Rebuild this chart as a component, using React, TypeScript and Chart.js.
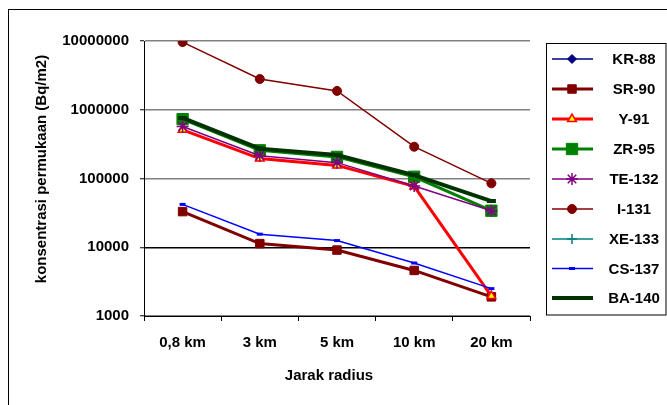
import React, { useEffect, useRef } from 'react';
import { Chart, registerables } from 'chart.js';
import { drawPoint } from 'chart.js/helpers';

Chart.register(...registerables);

// ---- data ----
const categories = ['0,8 km', '3 km', '5 km', '10 km', '20 km'];
const yTickValues = [1000, 10000, 100000, 1000000, 10000000];
const yTickLabels = ['1000', '10000', '100000', '1000000', '10000000'];
const seriesNames = ['KR-88', 'SR-90', 'Y-91', 'ZR-95', 'TE-132', 'I-131', 'XE-133', 'CS-137', 'BA-140'];

// noble gases (KR-88, XE-133) show no plotted points in the reference
const kr88 = [null, null, null, null, null];
const sr90 = [33000, 11300, 9100, 4600, 1900];
const y91 = [510000, 195000, 155000, 77000, 1950];
const zr95 = [730000, 257000, 206000, 106000, 34000];
const te132 = [570000, 215000, 170000, 78000, 34000];
const i131 = [9650000, 2800000, 1880000, 290000, 85000];
const xe133 = [null, null, null, null, null];
const cs137 = [42000, 15500, 12500, 5900, 2500];
const ba140 = [760000, 272000, 220000, 112000, 47000];

const seriesValues = [kr88, sr90, y91, zr95, te132, i131, xe133, cs137, ba140];

// ---- styles ----
const FONT = '"Liberation Sans", Arial, sans-serif';
const styles = [
  { line: '#000080', lw: 1.5, ps: 'rectRot', r: 4.5, pb: '#000080', pf: '#000080', pbw: 1 },
  { line: '#800000', lw: 3, ps: 'rect', r: 6, pb: '#800000', pf: '#800000', pbw: 1 },
  { line: '#FF0000', lw: 3, ps: 'triangle', r: 5, pb: '#FF0000', pf: '#FFFF00', pbw: 1.5 },
  { line: '#008000', lw: 3, ps: 'rect', r: 8, pb: '#008000', pf: '#008000', pbw: 1 },
  { line: '#800080', lw: 1.5, ps: 'star', r: 6, pb: '#800080', pf: '#800080', pbw: 1.5 },
  { line: '#800000', lw: 1.5, ps: 'circle', r: 4.5, pb: '#800000', pf: '#800000', pbw: 1 },
  { line: '#008080', lw: 1.5, ps: 'cross', r: 5, pb: '#008080', pf: '#008080', pbw: 1.5 },
  { line: '#0000FF', lw: 1.5, ps: 'line', r: 3, pb: '#0000FF', pf: '#0000FF', pbw: 3 },
  { line: '#003300', lw: 4, ps: 'line', r: 4.5, pb: '#003300', pf: '#003300', pbw: 4 },
];

const customPlugin = {
  id: 'custom',
  beforeDraw(chart: any) {
    const ctx = chart.ctx;
    ctx.save();
    ctx.fillStyle = '#fff';
    ctx.fillRect(0, 0, chart.width, chart.height);
    ctx.strokeStyle = '#000';
    ctx.lineWidth = 1;
    ctx.strokeRect(8.5, 9.5, 800, 600);
    ctx.restore();
  },
  afterDraw(chart: any) {
    const ctx = chart.ctx;
    ctx.save();
    ctx.strokeStyle = '#000';
    ctx.lineWidth = 1;
    ctx.strokeRect(546.5, 43.5, 119.5, 271.5);
    const ys = [59, 89, 119, 149, 179, 209, 239, 268.5, 298];
    chart.data.datasets.forEach((ds: any, i: number) => {
      const y = ys[i];
      ctx.strokeStyle = ds.borderColor;
      ctx.lineWidth = ds.borderWidth;
      ctx.beginPath();
      ctx.moveTo(552, y);
      ctx.lineTo(593, y);
      ctx.stroke();
      ctx.strokeStyle = ds.pointBorderColor;
      ctx.fillStyle = ds.pointBackgroundColor;
      ctx.lineWidth = ds.pointBorderWidth;
      drawPoint(ctx, { pointStyle: ds.pointStyle, rotation: 0, radius: ds.pointRadius, borderWidth: ds.pointBorderWidth }, 572, y);
      ctx.fillStyle = '#000';
      ctx.font = `bold 15px ${FONT}`;
      ctx.textAlign = 'center';
      ctx.textBaseline = 'middle';
      ctx.fillText(ds.label, 634, y + 1);
    });
    ctx.fillStyle = '#000';
    ctx.font = `bold 15px ${FONT}`;
    ctx.textAlign = 'center';
    ctx.textBaseline = 'middle';
    ctx.fillText('Jarak radius', 329, 376);
    ctx.translate(42, 169);
    ctx.rotate(-Math.PI / 2);
    ctx.fillText('konsentrasi permukaan (Bq/m2)', 0, 0);
    ctx.restore();
  },
};

export default function App() {
  const ref = useRef<HTMLCanvasElement | null>(null);
  useEffect(() => {
    if (!ref.current) return;
    const n = seriesNames.length;
    const chart = new Chart(ref.current, {
      type: 'line',
      data: {
        labels: categories,
        datasets: seriesNames.map((name, i) => {
          const s = styles[i];
          return {
            label: name,
            data: seriesValues[i],
            borderColor: s.line,
            backgroundColor: s.pf,
            borderWidth: s.lw,
            pointStyle: s.ps as any,
            pointRadius: s.r,
            pointHoverRadius: s.r,
            pointBorderColor: s.pb,
            pointBackgroundColor: s.pf,
            pointBorderWidth: s.pbw,
            tension: 0,
            fill: false,
            order: n - i,
          };
        }),
      },
      options: {
        animation: false,
        responsive: false,
        devicePixelRatio: 1,
        layout: { padding: { left: 0, top: 41, right: 137, bottom: 0 } },
        plugins: { legend: { display: false }, tooltip: { enabled: false }, title: { display: false } },
        scales: {
          x: {
            type: 'category',
            offset: true,
            grid: { offset: true, drawOnChartArea: false, drawTicks: true, tickLength: 5, tickColor: '#000', tickWidth: 1 },
            border: { color: '#000', width: 1 },
            ticks: { color: '#000', font: { family: FONT, size: 15, weight: 'bold' }, padding: 13, maxRotation: 0, autoSkip: false },
            afterFit: (s: any) => { s.height = 89; },
          },
          y: {
            type: 'logarithmic',
            min: 1000,
            max: 10000000,
            afterBuildTicks: (s: any) => { s.ticks = yTickValues.map((v) => ({ value: v })); },
            ticks: {
              color: '#000',
              font: { family: FONT, size: 15, weight: 'bold' },
              padding: 11,
              callback: (v: any) => { const k = yTickValues.indexOf(Number(v)); return k >= 0 ? yTickLabels[k] : ''; },
            },
            grid: {
              color: (c: any) => (c.tick && c.tick.value === 10000 ? '#000' : '#808080'),
              lineWidth: 1.5,
              tickLength: 4,
              tickColor: '#000',
              tickWidth: 1,
            },
            border: { color: '#000', width: 1 },
            afterFit: (s: any) => { s.width = 144; },
          },
        },
      },
      plugins: [customPlugin],
    });
    return () => chart.destroy();
  }, []);
  return (
    <div style={{ position: 'fixed', left: 0, top: 0, width: 667, height: 405, background: '#fff' }}>
      <canvas ref={ref} width={667} height={405} style={{ display: 'block' }} />
    </div>
  );
}
